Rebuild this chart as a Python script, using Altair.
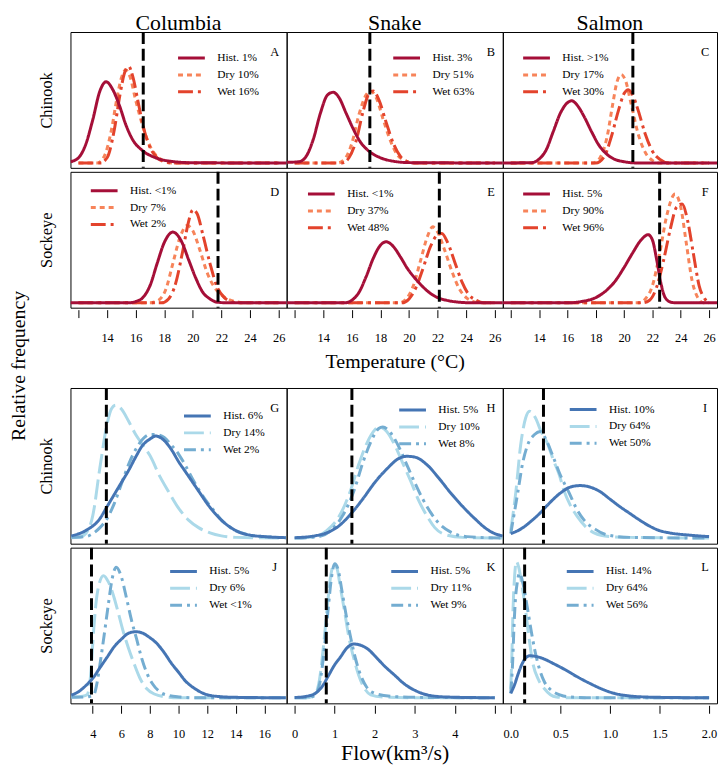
import altair as alt
import pandas as pd

SERIF = "Liberation Serif"

RIVERS = ["Columbia", "Snake", "Salmon"]
SPECIES = ["Chinook", "Sockeye"]

TEMP_TICKS = [12, 14, 16, 18, 20, 22, 24, 26]
COL_TICKS = [4, 6, 8, 10, 12, 14, 16]
SNAKE_TICKS = [0, 1, 2, 3, 4, 5]
SALMON_TICKS = [0.0, 0.5, 1.0, 1.5, 2.0]

LEGEND_LABELS = {
    "A": ["Hist. 1%", "Dry 10%", "Wet 16%"],
    "B": ["Hist. 3%", "Dry 51%", "Wet 63%"],
    "C": ["Hist. >1%", "Dry 17%", "Wet 30%"],
    "D": ["Hist. <1%", "Dry 7%", "Wet 2%"],
    "E": ["Hist. <1%", "Dry 37%", "Wet 48%"],
    "F": ["Hist. 5%", "Dry 90%", "Wet 96%"],
    "G": ["Hist. 6%", "Dry 14%", "Wet 2%"],
    "H": ["Hist. 5%", "Dry 10%", "Wet 8%"],
    "I": ["Hist. 10%", "Dry 64%", "Wet 50%"],
    "J": ["Hist. 5%", "Dry 6%", "Wet <1%"],
    "K": ["Hist. 5%", "Dry 11%", "Wet 9%"],
    "L": ["Hist. 14%", "Dry 64%", "Wet 56%"],
}

THRESHOLDS = {"A": 16.53, "B": 17.26, "C": 20.62, "D": 21.76, "E": 22.12, "F": 22.51,
              "G": 4.95, "H": 1.43, "I": 0.33, "J": 3.91, "K": 0.79, "L": 0.14}

# ---------------- temperature curves ----------------
A_HIST_X = [11.44, 12.0, 12.5, 13.0, 13.5, 13.93, 14.4, 14.86, 15.32, 15.78, 16.48, 17.4, 18.7, 20.0, 26.56]
A_HIST_Y = [0.01, 0.04, 0.14, 0.33, 0.55, 0.62, 0.56, 0.44, 0.29, 0.18, 0.095, 0.04, 0.01, 0.002, 0.0]
A_DRY_X = [12.0, 13.3, 13.8, 14.3, 14.7, 15.0, 15.3, 15.6, 16.0, 16.5, 17.0, 17.5, 18.0, 18.6, 26.0]
A_DRY_Y = [0.0, 0.0, 0.05, 0.25, 0.50, 0.65, 0.71, 0.66, 0.48, 0.28, 0.13, 0.05, 0.015, 0.0, 0.0]
A_WET_X = [12.0, 13.5, 14.0, 14.5, 14.9, 15.2, 15.5, 15.8, 16.2, 16.6, 17.0, 17.5, 18.0, 18.6, 26.0]
A_WET_Y = [0.0, 0.0, 0.04, 0.25, 0.52, 0.68, 0.74, 0.66, 0.45, 0.25, 0.12, 0.04, 0.01, 0.0, 0.0]

B_HIST_X = [11.44, 12.3, 12.8, 13.3, 13.8, 14.3, 14.7, 15.1, 15.6, 16.1, 16.6, 17.2, 18.0, 19.0, 20.0, 26.56]
B_HIST_Y = [0.005, 0.01, 0.05, 0.18, 0.38, 0.52, 0.54, 0.50, 0.38, 0.26, 0.16, 0.09, 0.04, 0.012, 0.003, 0.0]
B_DRY_X = [12.0, 15.0, 15.5, 16.0, 16.5, 17.0, 17.3, 17.7, 18.2, 18.7, 19.2, 19.7, 20.2, 26.0]
B_DRY_Y = [0.0, 0.0, 0.03, 0.15, 0.37, 0.52, 0.55, 0.50, 0.33, 0.17, 0.06, 0.02, 0.0, 0.0]
B_WET_X = [12.0, 15.3, 15.8, 16.3, 16.8, 17.2, 17.5, 17.9, 18.4, 18.9, 19.4, 19.9, 20.4, 26.0]
B_WET_Y = [0.0, 0.0, 0.04, 0.17, 0.40, 0.53, 0.55, 0.48, 0.31, 0.15, 0.05, 0.01, 0.0, 0.0]

C_HIST_X = [11.44, 13.5, 14.0, 14.5, 15.0, 15.5, 16.0, 16.3, 16.7, 17.2, 17.7, 18.2, 18.7, 19.3, 20.0, 21.0, 26.56]
C_HIST_Y = [0.0, 0.003, 0.03, 0.10, 0.24, 0.38, 0.46, 0.475, 0.44, 0.35, 0.24, 0.14, 0.075, 0.03, 0.01, 0.0, 0.0]
C_DRY_X = [12.0, 17.8, 18.3, 18.8, 19.2, 19.5, 19.8, 20.1, 20.5, 21.0, 21.5, 22.0, 22.5, 26.0]
C_DRY_Y = [0.0, 0.0, 0.04, 0.20, 0.45, 0.62, 0.675, 0.63, 0.45, 0.22, 0.08, 0.02, 0.0, 0.0]
C_WET_X = [12.0, 18.0, 18.6, 19.1, 19.6, 20.0, 20.3, 20.6, 21.0, 21.5, 22.0, 22.5, 23.2, 26.0]
C_WET_Y = [0.0, 0.0, 0.05, 0.20, 0.40, 0.53, 0.56, 0.52, 0.40, 0.22, 0.09, 0.03, 0.0, 0.0]

D_HIST_X = [11.44, 15.5, 16.0, 16.5, 17.0, 17.5, 18.0, 18.6, 19.2, 19.7, 20.2, 20.7, 21.2, 21.7, 22.5, 26.56]
D_HIST_Y = [0.0, 0.0, 0.01, 0.04, 0.13, 0.30, 0.46, 0.54, 0.47, 0.33, 0.19, 0.08, 0.03, 0.005, 0.0, 0.0]
D_DRY_X = [12.0, 17.0, 17.6, 18.1, 18.6, 19.1, 19.6, 20.0, 20.5, 21.0, 21.5, 22.0, 22.5, 23.0, 23.5, 26.0]
D_DRY_Y = [0.0, 0.0, 0.02, 0.10, 0.30, 0.50, 0.59, 0.55, 0.40, 0.23, 0.12, 0.06, 0.025, 0.01, 0.0, 0.0]
D_WET_X = [12.0, 17.8, 18.3, 18.8, 19.3, 19.7, 20.0, 20.3, 20.7, 21.2, 21.7, 22.2, 22.7, 23.2, 26.0]
D_WET_Y = [0.0, 0.0, 0.03, 0.15, 0.40, 0.62, 0.71, 0.68, 0.52, 0.30, 0.12, 0.04, 0.01, 0.0, 0.0]

E_HIST_X = [11.44, 15.5, 16.0, 16.5, 17.0, 17.5, 18.0, 18.4, 18.9, 19.4, 19.9, 20.4, 20.9, 21.4, 22.0, 22.6, 23.5, 24.5, 26.56]
E_HIST_Y = [0.0, 0.0, 0.02, 0.08, 0.20, 0.34, 0.44, 0.466, 0.43, 0.35, 0.26, 0.19, 0.13, 0.08, 0.04, 0.02, 0.005, 0.0, 0.0]
E_DRY_X = [12.0, 19.3, 19.8, 20.3, 20.8, 21.3, 21.65, 22.0, 22.5, 23.0, 23.5, 24.0, 24.5, 25.0, 26.0]
E_DRY_Y = [0.0, 0.0, 0.03, 0.13, 0.32, 0.51, 0.58, 0.54, 0.40, 0.24, 0.11, 0.04, 0.01, 0.0, 0.0]
E_WET_X = [12.0, 19.5, 20.0, 20.5, 21.0, 21.5, 22.0, 22.3, 22.7, 23.2, 23.7, 24.2, 24.7, 25.2, 26.0]
E_WET_Y = [0.0, 0.0, 0.03, 0.12, 0.27, 0.43, 0.52, 0.53, 0.46, 0.31, 0.16, 0.06, 0.02, 0.0, 0.0]

F_HIST_X = [11.44, 16.0, 17.0, 18.0, 18.7, 19.4, 20.0, 20.6, 21.2, 21.7, 22.0, 22.3, 22.6, 22.9, 23.3, 23.7, 26.56]
F_HIST_Y = [0.0, 0.0, 0.01, 0.04, 0.09, 0.17, 0.27, 0.38, 0.48, 0.52, 0.48, 0.33, 0.15, 0.04, 0.005, 0.0, 0.0]
F_DRY_X = [12.0, 21.0, 21.5, 22.0, 22.5, 23.0, 23.6, 24.0, 24.4, 24.8, 25.2, 25.6, 26.0]
F_DRY_Y = [0.0, 0.0, 0.03, 0.13, 0.37, 0.66, 0.83, 0.73, 0.45, 0.17, 0.04, 0.0, 0.0]
F_WET_X = [12.0, 21.3, 21.8, 22.3, 22.8, 23.3, 23.7, 24.1, 24.5, 24.9, 25.3, 25.7, 26.0]
F_WET_Y = [0.0, 0.0, 0.02, 0.12, 0.33, 0.58, 0.73, 0.755, 0.62, 0.37, 0.13, 0.03, 0.0]

# ---------------- flow curves ----------------
G_HIST_X = [2.5, 3.5, 4.5, 5.0, 5.5, 6.0, 6.5, 7.0, 7.5, 8.0, 8.4, 9.0, 9.5, 10.0, 10.5, 11.0, 11.5, 12.0, 12.5, 13.0, 13.5, 14.0, 15.0, 16.0, 17.5]
G_HIST_Y = [0.015, 0.05, 0.13, 0.21, 0.29, 0.37, 0.45, 0.54, 0.62, 0.66, 0.68, 0.65, 0.59, 0.51, 0.44, 0.37, 0.30, 0.23, 0.17, 0.12, 0.08, 0.05, 0.02, 0.01, 0.003]
G_DRY_X = [2.5, 3.0, 3.5, 4.0, 4.5, 5.0, 5.3, 5.6, 6.0, 6.5, 7.0, 7.5, 8.0, 8.7, 9.3, 10.0, 10.7, 11.4, 12.2, 13.0, 14.0, 17.5]
G_DRY_Y = [0.003, 0.005, 0.03, 0.15, 0.47, 0.76, 0.86, 0.885, 0.86, 0.78, 0.69, 0.62, 0.55, 0.41, 0.31, 0.20, 0.12, 0.07, 0.035, 0.015, 0.005, 0.0]
G_WET_X = [2.5, 3.5, 4.0, 4.5, 5.0, 5.5, 6.0, 6.5, 7.0, 7.5, 8.0, 8.4, 9.0, 9.5, 10.0, 10.5, 11.0, 11.5, 12.0, 12.5, 13.0, 13.5, 14.0, 15.0, 16.0, 17.5]
G_WET_Y = [0.005, 0.01, 0.03, 0.07, 0.13, 0.23, 0.36, 0.49, 0.59, 0.66, 0.69, 0.69, 0.67, 0.62, 0.56, 0.48, 0.39, 0.31, 0.24, 0.18, 0.12, 0.08, 0.05, 0.02, 0.01, 0.004]

H_HIST_X = [0.0, 0.5, 0.8, 1.1, 1.4, 1.7, 2.0, 2.3, 2.6, 2.8, 3.0, 3.3, 3.6, 3.9, 4.2, 4.5, 4.8, 5.0, 5.2]
H_HIST_Y = [0.003, 0.015, 0.035, 0.08, 0.16, 0.26, 0.37, 0.46, 0.53, 0.545, 0.54, 0.49, 0.40, 0.30, 0.21, 0.13, 0.06, 0.03, 0.015]
H_DRY_X = [0.0, 0.5, 0.8, 1.1, 1.4, 1.6, 1.8, 2.0, 2.1, 2.3, 2.5, 2.7, 2.9, 3.1, 3.3, 3.5, 3.8, 4.2, 5.2]
H_DRY_Y = [0.0, 0.01, 0.05, 0.14, 0.32, 0.49, 0.63, 0.72, 0.74, 0.71, 0.62, 0.50, 0.38, 0.25, 0.15, 0.07, 0.02, 0.005, 0.0]
H_WET_X = [0.0, 0.6, 0.9, 1.2, 1.5, 1.7, 1.9, 2.1, 2.2, 2.4, 2.6, 2.8, 3.0, 3.2, 3.4, 3.6, 3.9, 4.3, 5.2]
H_WET_Y = [0.0, 0.01, 0.05, 0.15, 0.33, 0.50, 0.64, 0.73, 0.74, 0.70, 0.61, 0.49, 0.37, 0.26, 0.17, 0.10, 0.04, 0.01, 0.0]

I_HIST_X = [0.0, 0.1, 0.2, 0.3, 0.4, 0.5, 0.6, 0.7, 0.8, 0.9, 1.0, 1.1, 1.2, 1.3, 1.4, 1.5, 1.6, 1.8, 2.0]
I_HIST_Y = [0.03, 0.06, 0.11, 0.17, 0.24, 0.30, 0.34, 0.35, 0.34, 0.31, 0.26, 0.21, 0.165, 0.12, 0.08, 0.05, 0.035, 0.02, 0.01]
I_DRY_X = [0.0, 0.05, 0.1, 0.15, 0.19, 0.25, 0.3, 0.37, 0.43, 0.49, 0.54, 0.6, 0.67, 0.75, 0.84, 1.0, 1.2, 2.0]
I_DRY_Y = [0.05, 0.30, 0.62, 0.80, 0.845, 0.80, 0.72, 0.63, 0.52, 0.42, 0.31, 0.22, 0.145, 0.08, 0.035, 0.01, 0.005, 0.0]
I_WET_X = [0.0, 0.07, 0.12, 0.17, 0.24, 0.3, 0.36, 0.42, 0.5, 0.59, 0.66, 0.74, 0.85, 0.97, 1.2, 2.0]
I_WET_Y = [0.03, 0.30, 0.50, 0.62, 0.69, 0.71, 0.65, 0.555, 0.42, 0.30, 0.20, 0.12, 0.06, 0.022, 0.005, 0.0]

J_HIST_X = [2.5, 3.0, 3.5, 4.0, 4.5, 5.0, 5.5, 6.0, 6.5, 7.0, 7.5, 8.0, 8.5, 9.0, 9.5, 10.0, 10.5, 11.0, 11.5, 12.0, 13.0, 14.0, 17.5]
J_HIST_Y = [0.018, 0.04, 0.08, 0.13, 0.20, 0.27, 0.34, 0.39, 0.43, 0.44, 0.43, 0.40, 0.36, 0.30, 0.23, 0.17, 0.11, 0.07, 0.04, 0.02, 0.007, 0.003, 0.0]
J_DRY_X = [2.5, 3.3, 3.6, 3.85, 4.07, 4.25, 4.45, 4.75, 5.1, 5.45, 5.8, 6.15, 6.5, 6.85, 7.3, 7.76, 8.3, 9.2, 10.0, 17.5]
J_DRY_Y = [0.005, 0.01, 0.02, 0.15, 0.46, 0.65, 0.76, 0.813, 0.77, 0.68, 0.56, 0.435, 0.33, 0.237, 0.13, 0.062, 0.025, 0.005, 0.0, 0.0]
J_WET_X = [2.5, 3.5, 4.07, 4.3, 4.53, 4.8, 5.1, 5.35, 5.64, 5.95, 6.38, 6.7, 7.07, 7.4, 7.76, 8.2, 8.69, 9.3, 10.1, 11.0, 17.5]
J_WET_Y = [0.003, 0.005, 0.02, 0.10, 0.24, 0.42, 0.63, 0.79, 0.87, 0.82, 0.655, 0.52, 0.39, 0.27, 0.17, 0.09, 0.04, 0.015, 0.005, 0.0, 0.0]

K_HIST_X = [0.0, 0.3, 0.52, 0.7, 0.85, 1.0, 1.14, 1.3, 1.475, 1.65, 1.85, 2.0, 2.25, 2.5, 2.75, 3.0, 3.3, 3.8, 5.0]
K_HIST_Y = [0.002, 0.01, 0.03, 0.08, 0.15, 0.22, 0.27, 0.33, 0.358, 0.35, 0.32, 0.28, 0.21, 0.15, 0.09, 0.05, 0.02, 0.005, 0.0]
K_DRY_X = [0.0, 0.3, 0.5, 0.62, 0.73, 0.82, 0.9, 0.98, 1.06, 1.14, 1.25, 1.35, 1.48, 1.6, 1.75, 1.9, 2.2, 3.0, 5.0]
K_DRY_Y = [0.0, 0.0, 0.02, 0.12, 0.37, 0.62, 0.81, 0.89, 0.86, 0.74, 0.57, 0.41, 0.26, 0.15, 0.06, 0.02, 0.005, 0.0, 0.0]
K_WET_X = [0.0, 0.3, 0.5, 0.63, 0.75, 0.84, 0.92, 1.0, 1.08, 1.17, 1.28, 1.4, 1.52, 1.65, 1.8, 2.0, 2.4, 3.0, 5.0]
K_WET_Y = [0.0, 0.0, 0.015, 0.10, 0.35, 0.60, 0.80, 0.893, 0.86, 0.73, 0.56, 0.40, 0.26, 0.15, 0.07, 0.03, 0.01, 0.003, 0.0]

L_HIST_X = [0.0, 0.04, 0.07, 0.11, 0.15, 0.19, 0.25, 0.33, 0.43, 0.54, 0.67, 0.8, 0.92, 1.04, 1.2, 1.37, 1.6, 2.0]
L_HIST_Y = [0.03, 0.09, 0.15, 0.22, 0.265, 0.28, 0.276, 0.26, 0.228, 0.19, 0.14, 0.095, 0.058, 0.03, 0.012, 0.005, 0.002, 0.0]
L_DRY_X = [0.0, 0.012, 0.023, 0.04, 0.056, 0.08, 0.11, 0.14, 0.18, 0.22, 0.28, 0.34, 0.4, 0.46, 0.6, 2.0]
L_DRY_Y = [0.06, 0.30, 0.59, 0.82, 0.908, 0.87, 0.76, 0.63, 0.42, 0.24, 0.12, 0.06, 0.02, 0.005, 0.0, 0.0]
L_WET_X = [0.0, 0.02, 0.033, 0.05, 0.065, 0.09, 0.12, 0.17, 0.205, 0.24, 0.29, 0.34, 0.4, 0.455, 0.53, 0.6, 0.8, 2.0]
L_WET_Y = [0.03, 0.25, 0.48, 0.68, 0.765, 0.83, 0.77, 0.59, 0.45, 0.325, 0.19, 0.105, 0.055, 0.03, 0.012, 0.005, 0.0, 0.0]

CURVES = {
    "A": (A_HIST_X, A_HIST_Y, A_DRY_X, A_DRY_Y, A_WET_X, A_WET_Y),
    "B": (B_HIST_X, B_HIST_Y, B_DRY_X, B_DRY_Y, B_WET_X, B_WET_Y),
    "C": (C_HIST_X, C_HIST_Y, C_DRY_X, C_DRY_Y, C_WET_X, C_WET_Y),
    "D": (D_HIST_X, D_HIST_Y, D_DRY_X, D_DRY_Y, D_WET_X, D_WET_Y),
    "E": (E_HIST_X, E_HIST_Y, E_DRY_X, E_DRY_Y, E_WET_X, E_WET_Y),
    "F": (F_HIST_X, F_HIST_Y, F_DRY_X, F_DRY_Y, F_WET_X, F_WET_Y),
    "G": (G_HIST_X, G_HIST_Y, G_DRY_X, G_DRY_Y, G_WET_X, G_WET_Y),
    "H": (H_HIST_X, H_HIST_Y, H_DRY_X, H_DRY_Y, H_WET_X, H_WET_Y),
    "I": (I_HIST_X, I_HIST_Y, I_DRY_X, I_DRY_Y, I_WET_X, I_WET_Y),
    "J": (J_HIST_X, J_HIST_Y, J_DRY_X, J_DRY_Y, J_WET_X, J_WET_Y),
    "K": (K_HIST_X, K_HIST_Y, K_DRY_X, K_DRY_Y, K_WET_X, K_WET_Y),
    "L": (L_HIST_X, L_HIST_Y, L_DRY_X, L_DRY_Y, L_WET_X, L_WET_Y),
}

# ---------------- styling ----------------
TEMP_COLORS = ["#a50f38", "#f7845a", "#e3432c"]
FLOW_COLORS = ["#4575b4", "#abd9e9", "#74add1"]
TEMP_DASHES = [[1, 0], [5, 4], [15, 5, 3, 4]]
FLOW_DASHES = [[1, 0], [20, 6], [12, 5, 3, 5]]

WIDTHS = [218, 218, 216]
TEMP_H = 137
FLOW_H = 157
TEMP_DOMAIN = [11.44, 26.56]
FLOW_DOMAINS = [[2.44, 17.56], [-0.2, 5.2], [-0.08, 2.08]]
FLOW_TICKS = [COL_TICKS, SNAKE_TICKS, SALMON_TICKS]

LEGEND_ROW = 16.5
LEGEND_POS = {
    "A": (107, 18), "B": (106, 18), "C": (19, 18),
    "D": (19, 10.8), "E": (20, 14.2), "F": (19, 14.2),
    "G": (113, 20), "H": (112, 14), "I": (66, 13.5),
    "J": (99, 15.8), "K": (104, 15.8), "L": (63, 15.8),
}


def curve_frame(key):
    hx, hy, dx, dy, wx, wy = CURVES[key]
    labels = LEGEND_LABELS[key]
    rows = []
    for lab, xs, ys in ((labels[1], dx, dy), (labels[2], wx, wy), (labels[0], hx, hy)):
        for x, y in zip(xs, ys):
            rows.append({"x": x, "y": y, "series": lab})
    return pd.DataFrame(rows)


def bottom_axis(values, title, label_expr=None, fmt=None, label_pad=14.5, title_size=20, title_pad=5):
    kw = dict(values=values, offset=2, tickSize=8, domain=False, grid=False, ticks=True,
              tickColor="black", tickWidth=1, labelFont=SERIF, labelFontSize=12.5,
              labelColor="black", labelPadding=label_pad, labelFlush=False, labelOverlap=False,
              titleFont=SERIF, titleFontSize=title_size, titleFontWeight="normal",
              titleColor="black", titlePadding=title_pad)
    if label_expr:
        kw["labelExpr"] = label_expr
    if fmt:
        kw["format"] = fmt
    kw["title"] = title if title else None
    return alt.Axis(**kw)


def panel(key, xdom, width, height, colors, dashes, xaxis, ytitle=None, coltitle=None):
    df = curve_frame(key)
    labels = LEGEND_LABELS[key]
    lx, ly = LEGEND_POS[key]
    xenc = alt.X("x:Q", scale=alt.Scale(domain=xdom, nice=False, zero=False), axis=xaxis)
    if ytitle:
        yaxis = alt.Axis(title=ytitle, labels=False, ticks=False, domain=False, grid=False,
                         titleFont=SERIF, titleFontSize=16.5, titleFontWeight="normal",
                         titleColor="black", titlePadding=16.5)
    else:
        yaxis = None
    yenc = alt.Y("y:Q", scale=alt.Scale(domain=[-0.037, 1.0], nice=False, zero=False), axis=yaxis)
    leg = alt.Legend(title=None, orient="none", legendX=lx, legendY=ly, direction="vertical",
                     symbolType="stroke", symbolSize=729, symbolStrokeWidth=3, symbolOffset=0,
                     labelFont=SERIF, labelFontSize=11.5, labelColor="black", labelOffset=11,
                     labelLimit=300, rowPadding=0, clipHeight=LEGEND_ROW, padding=0)
    color = alt.Color("series:N", scale=alt.Scale(domain=labels, range=colors), legend=leg)
    dash = alt.StrokeDash("series:N", scale=alt.Scale(domain=labels, range=dashes), legend=leg)
    base = alt.Chart(df).mark_line(strokeWidth=3, interpolate="monotone", clip=True).encode(
        x=xenc, y=yenc, color=color, strokeDash=dash)
    dw = base.transform_filter(alt.datum.series != labels[0])
    hist = base.transform_filter(alt.datum.series == labels[0])
    rule = alt.Chart(pd.DataFrame({"x": [THRESHOLDS[key]]})).mark_rule(
        color="black", strokeWidth=3, strokeDash=[12, 5]).encode(x=xenc)
    letter = alt.Chart(pd.DataFrame({"t": [key]})).mark_text(
        font=SERIF, fontSize=12.5, align="center", baseline="middle", color="black").encode(
        x=alt.value(width - 12), y=alt.value(20), text="t:N")
    props = dict(width=width, height=height)
    if coltitle:
        props["title"] = alt.Title(coltitle, font=SERIF, fontSize=22, fontWeight="normal",
                                   color="black", anchor="middle", offset=-4)
    return alt.layer(dw, hist, rule, letter).properties(**props)


def res(ch):
    return ch.resolve_scale(x="independent", y="independent", color="independent",
                            strokeDash="independent").resolve_legend(
        color="independent", strokeDash="independent")


temp_top, temp_bot = [], []
for i, (k1, k2) in enumerate([("A", "D"), ("B", "E"), ("C", "F")]):
    temp_top.append(panel(k1, TEMP_DOMAIN, WIDTHS[i], TEMP_H, TEMP_COLORS, TEMP_DASHES, None,
                          ytitle=SPECIES[0] if i == 0 else None, coltitle=RIVERS[i]))
    ax = bottom_axis(TEMP_TICKS, "Temperature (°C)" if i == 1 else None,
                     label_expr="datum.value == 12 ? '' : datum.label", label_pad=14.5, title_pad=7)
    temp_bot.append(panel(k2, TEMP_DOMAIN, WIDTHS[i], TEMP_H, TEMP_COLORS, TEMP_DASHES, ax,
                          ytitle=SPECIES[1] if i == 0 else None))

flow_top, flow_bot = [], []
for i, (k1, k2) in enumerate([("G", "J"), ("H", "K"), ("I", "L")]):
    flow_top.append(panel(k1, FLOW_DOMAINS[i], WIDTHS[i], FLOW_H, FLOW_COLORS, FLOW_DASHES, None,
                          ytitle=SPECIES[0] if i == 0 else None))
    if i == 0:
        ax = bottom_axis(FLOW_TICKS[i], None, label_pad=14.5)
    elif i == 1:
        ax = bottom_axis(FLOW_TICKS[i], "Flow(km³/s)", label_expr="datum.value == 5 ? '' : datum.label",
                         label_pad=14.5, title_size=22, title_pad=3)
    else:
        ax = bottom_axis(FLOW_TICKS[i], None, fmt=".1f", label_pad=14.5)
    flow_bot.append(panel(k2, FLOW_DOMAINS[i], WIDTHS[i], FLOW_H, FLOW_COLORS, FLOW_DASHES, ax,
                          ytitle=SPECIES[1] if i == 0 else None))


def row(charts):
    return res(alt.hconcat(*charts, spacing=0, bounds="flush"))


temp_block = res(alt.vconcat(row(temp_top), row(temp_bot), spacing=0))
flow_block = res(alt.vconcat(row(flow_top), row(flow_bot), spacing=0))

chart = res(alt.vconcat(temp_block, flow_block, spacing=14)).properties(
    title=alt.Title("Relative frequency", orient="left", anchor="middle",
                    font=SERIF, fontSize=20, fontWeight="normal", color="black", offset=9, dx=22),
    padding=0,
).configure(font=SERIF).configure_view(stroke="black", strokeWidth=1).configure_axis(grid=False)

chart.save("out.html", embed_options={"renderer": "svg", "actions": False})
